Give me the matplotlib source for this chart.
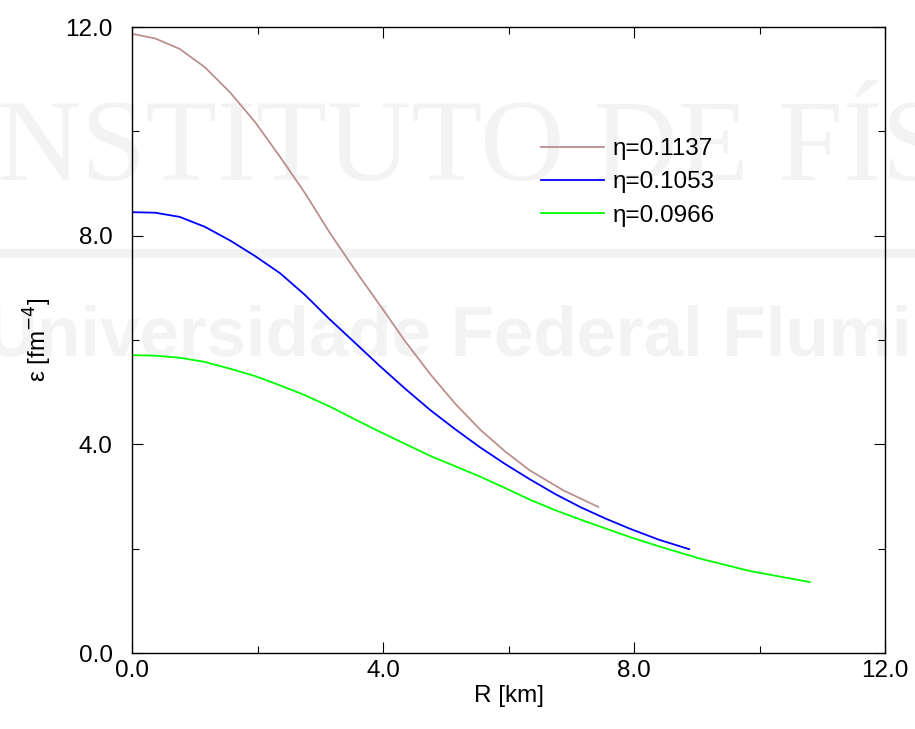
import matplotlib
matplotlib.use("Agg")
import matplotlib.pyplot as plt

plt.rcParams['font.family'] = ['Liberation Sans', 'DejaVu Sans']

# curves (R in km, energy density in fm^-4)
r_a = [0.0, 0.37, 0.76, 1.16, 1.56, 1.96, 2.36, 2.76, 3.16, 3.63, 3.95, 4.35, 4.75,
       5.15, 5.55, 5.95, 6.34, 6.87, 7.43]
e_a = [11.87, 11.78, 11.58, 11.23, 10.75, 10.18, 9.51, 8.81, 8.04, 7.21, 6.67, 5.98, 5.35,
       4.78, 4.28, 3.86, 3.50, 3.12, 2.80]

r_b = [0.0, 0.37, 0.76, 1.16, 1.56, 1.96, 2.36, 2.76, 3.13, 3.55, 3.95, 4.35, 4.75,
       5.15, 5.55, 5.95, 6.34, 6.74, 7.14, 7.54, 7.94, 8.40, 8.88]
e_b = [8.45, 8.44, 8.36, 8.17, 7.91, 7.61, 7.28, 6.86, 6.42, 5.95, 5.50, 5.07, 4.66,
       4.29, 3.94, 3.62, 3.33, 3.05, 2.80, 2.58, 2.38, 2.17, 1.99]

r_c = [0.0, 0.37, 0.76, 1.16, 1.56, 1.96, 2.36, 2.76, 3.16, 3.55, 3.95, 4.35, 4.75,
       5.15, 5.55, 5.95, 6.34, 6.74, 7.14, 7.54, 7.94, 8.41, 9.05, 9.85, 10.80]
e_c = [5.71, 5.70, 5.66, 5.58, 5.45, 5.31, 5.13, 4.94, 4.72, 4.48, 4.24, 4.01, 3.78,
       3.58, 3.38, 3.16, 2.94, 2.74, 2.56, 2.39, 2.22, 2.04, 1.81, 1.57, 1.36]

labels = ['η=0.1137', 'η=0.1053', 'η=0.0966']
colors = ['#bc8f8f', '#0000ff', '#00ff00']
ticks = [0, 4, 8, 12]
tick_labels = ['0.0', '4.0', '8.0', '12.0']

fs = 17.5

fig = plt.figure(figsize=(9.15, 7.29), dpi=100)
ax = fig.add_axes([132/915, 76/729, 753/915, 626/729])
ax.patch.set_alpha(0)

# faint watermark behind the plot
fig.text(-42/915, 1 - 152/729, 'INSTITUTO DE FÍSICA', fontsize=84, color='#f3f3f3',
         family='Liberation Serif', va='center', ha='left', zorder=-2)
fig.text(-14/915, 1 - 338/729, 'Universidade Federal Fluminense', fontsize=51,
         weight='bold', color='#f3f3f3', va='center', ha='left', zorder=-2)
fig.patches.append(plt.Rectangle((0, 1 - 257/729), 1, 8/729, transform=fig.transFigure,
                                 color='#f3f3f3', zorder=-2))

for r, e, lab, c in zip([r_a, r_b, r_c], [e_a, e_b, e_c], labels, colors):
    ax.plot(r, e, color=c, lw=1.3, label=lab)

ax.set_xlim(0, 12)
ax.set_ylim(0, 12)
ax.set_xticks(ticks)
ax.set_yticks(ticks)
ax.set_xticks([2, 6, 10], minor=True)
ax.set_yticks([2, 6, 10], minor=True)
ax.set_xticklabels(tick_labels)
ax.set_yticklabels(tick_labels)
ax.tick_params(which='both', direction='in', top=True, right=True, labelsize=fs)
ax.tick_params(axis='y', pad=14)
ax.tick_params(axis='x', pad=5)
ax.tick_params(which='major', length=8, width=0.8)
ax.tick_params(which='minor', length=5, width=0.8)
for s in ax.spines.values():
    s.set_linewidth(1.0)

ax.set_xlabel('R [km]', fontsize=fs, labelpad=2)
ax.set_ylabel('ε [fm$^{-4}$]', fontsize=fs, labelpad=8)

ax.legend(loc='upper left', bbox_to_anchor=((541 - 132)/753, (653 - 138)/626),
          frameon=False, fontsize=fs, borderpad=0, borderaxespad=0,
          handlelength=2.6, handletextpad=0.35, labelspacing=0.47)

fig.savefig('out.png', dpi=100)
